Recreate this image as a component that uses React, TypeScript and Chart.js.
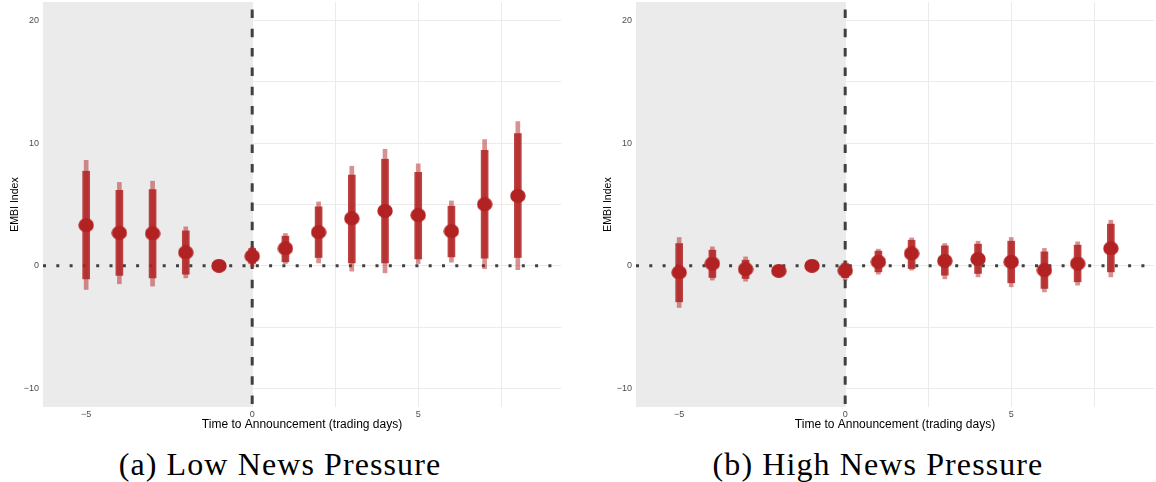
import React, { useEffect, useRef } from 'react';
import { Chart, registerables } from 'chart.js';

Chart.register(...registerables);

// ---------- data ----------
const days = [-5, -4, -3, -2, -1, 0, 1, 2, 3, 4, 5, 6, 7, 8];

// (a) Low News Pressure
const lowEst = [3.31, 2.69, 2.64, 1.09, 0, 0.79, 1.42, 2.74, 3.86, 4.48, 4.13, 2.83, 5.02, 5.7];
const lowThickLo = [-1.06, -0.78, -0.98, -0.68, null, 0.2, 0.33, 0.68, 0.24, 0.24, 0.57, 0.73, 0.63, 0.68];
const lowThickHi = [7.71, 6.16, 6.22, 2.85, null, 1.42, 2.42, 4.81, 7.39, 8.69, 7.63, 4.86, 9.42, 10.78];
const lowThinLo = [-1.92, -1.46, -1.65, -0.98, null, -0.08, 0.19, 0.24, -0.43, -0.57, 0.19, 0.3, -0.22, -0.3];
const lowThinHi = [8.6, 6.8, 6.9, 3.18, null, 1.55, 2.64, 5.21, 8.12, 9.5, 8.31, 5.29, 10.29, 11.76];

// (b) High News Pressure
const highEst = [-0.54, 0.19, -0.27, -0.41, 0, -0.38, 0.33, 1.01, 0.41, 0.55, 0.33, -0.35, 0.19, 1.42];
const highThickLo = [-2.93, -0.95, -1.03, -0.75, null, -0.95, -0.49, -0.22, -0.76, -0.62, -1.38, -1.84, -1.3, -0.49];
const highThickHi = [1.82, 1.28, 0.46, -0.1, null, 0.19, 1.2, 2.09, 1.63, 1.77, 2.01, 1.14, 1.69, 3.4];
const highThinLo = [-3.39, -1.16, -1.25, -0.85, null, -1.16, -0.68, -0.35, -1.06, -0.9, -1.71, -2.12, -1.57, -0.9];
const highThinHi = [2.31, 1.55, 0.73, 0.0, null, 0.38, 1.36, 2.28, 1.82, 2.01, 2.31, 1.42, 1.96, 3.72];

const xTickValues = [-5, -2.5, 0, 2.5, 5, 7.5];
const xTickLabels = ['\u22125', '', '0', '', '5', ''];
const yTickValues = [-10, -5, 0, 5, 10, 15, 20];
const yTickLabels = ['\u221210', '', '0', '', '10', '', '20'];
const xLimits = [-6.3, 9.3];
const yLimits = [-11.5, 21.5];

const yTitle = 'EMBI Index';
const xTitle = 'Time to Announcement (trading days)';
const captionA = '(a) Low News Pressure';
const captionB = '(b) High News Pressure';

// ---------- styles ----------
const SANS = '"Liberation Sans", Arial, sans-serif';
const RED = '#b22222';
const THICK = 'rgba(178,34,34,0.85)';
const THIN = 'rgba(178,34,34,0.5)';
const GRID = '#ebebeb';
const SHADE = '#ebebeb';
const LINE = '#404040';
const CANVAS_H = 440;

function makeDot(): HTMLCanvasElement {
  const c = document.createElement('canvas');
  c.width = 16;
  c.height = 14;
  const g = c.getContext('2d')!;
  g.fillStyle = RED;
  g.beginPath();
  g.ellipse(8, 7, 7.7, 6.9, 0, 0, Math.PI * 2);
  g.fill();
  return c;
}

const refPlugin = {
  id: 'refLines',
  beforeDatasetsDraw(chart: any) {
    const { ctx, chartArea: a, scales } = chart;
    const x0 = scales.x.getPixelForValue(0);
    const y0 = scales.y.getPixelForValue(0);
    ctx.save();
    ctx.fillStyle = SHADE;
    ctx.fillRect(a.left, a.top, x0 - a.left, a.bottom - a.top);
    ctx.strokeStyle = LINE;
    ctx.lineWidth = 3;
    ctx.setLineDash([3, 10.3]);
    ctx.lineDashOffset = 0;
    ctx.beginPath();
    ctx.moveTo(a.left, y0);
    ctx.lineTo(a.right, y0);
    ctx.stroke();
    ctx.setLineDash([8.5, 10.8]);
    ctx.lineDashOffset = 11.8;
    ctx.beginPath();
    ctx.moveTo(x0, a.top);
    ctx.lineTo(x0, a.bottom);
    ctx.stroke();
    ctx.restore();
  },
};

type PanelProps = {
  est: number[];
  thickLo: (number | null)[];
  thickHi: (number | null)[];
  thinLo: (number | null)[];
  thinHi: (number | null)[];
  left: number;
  width: number;
  padRight: number;
};

function Panel(p: PanelProps) {
  const ref = useRef<HTMLCanvasElement>(null);
  useEffect(() => {
    if (!ref.current) return;
    const dot = makeDot();
    const bars = (lo: (number | null)[], hi: (number | null)[]) =>
      days
        .map((d, i) => ({ x: d, y: [lo[i], hi[i]] }))
        .filter((o) => o.y[0] !== null && o.y[1] !== null);
    const chart = new Chart(ref.current, {
      type: 'scatter',
      data: {
        datasets: [
          {
            type: 'bar',
            data: bars(p.thinLo, p.thinHi) as any,
            backgroundColor: THIN,
            borderWidth: 0,
            barThickness: 4,
            grouped: false,
            order: 3,
          } as any,
          {
            type: 'bar',
            data: bars(p.thickLo, p.thickHi) as any,
            backgroundColor: THICK,
            borderWidth: 0,
            barThickness: 7,
            grouped: false,
            order: 2,
          } as any,
          {
            type: 'scatter',
            data: days.map((d, i) => ({ x: d, y: p.est[i] })),
            pointStyle: dot as any,
            pointRadius: 7,
            backgroundColor: RED,
            borderWidth: 0,
            order: 1,
          } as any,
        ],
      },
      options: {
        animation: false,
        responsive: false,
        events: [],
        layout: { autoPadding: false, padding: { top: 2, right: p.padRight, left: 0, bottom: 0 } },
        plugins: { legend: { display: false }, tooltip: { enabled: false } },
        scales: {
          x: {
            type: 'linear',
            min: xLimits[0],
            max: xLimits[1],
            offset: false,
            afterBuildTicks: (s: any) => {
              s.ticks = xTickValues.map((v) => ({ value: v }));
            },
            afterFit: (s: any) => {
              s.height = CANVAS_H - 407;
              s.paddingLeft = 0;
              s.paddingRight = 0;
            },
            ticks: {
              autoSkip: false,
              maxRotation: 0,
              padding: 2,
              color: '#4d4d4d',
              font: { size: 9, family: SANS },
              callback: (v: any) => xTickLabels[xTickValues.indexOf(Number(v))] ?? '',
            },
            grid: { color: GRID, lineWidth: 1, drawTicks: false, offset: false },
            border: { display: false },
            title: {
              display: true,
              text: xTitle,
              color: '#000',
              font: { size: 12, family: SANS },
              padding: { top: 0, bottom: 8 },
            },
          },
          y: {
            type: 'linear',
            min: yLimits[0],
            max: yLimits[1],
            beginAtZero: false,
            afterBuildTicks: (s: any) => {
              s.ticks = yTickValues.map((v) => ({ value: v }));
            },
            afterFit: (s: any) => {
              s.width = 43;
              s.paddingTop = 0;
              s.paddingBottom = 0;
            },
            ticks: {
              autoSkip: false,
              padding: 4,
              color: '#4d4d4d',
              font: { size: 9, family: SANS },
              callback: (v: any) => yTickLabels[yTickValues.indexOf(Number(v))] ?? '',
            },
            grid: { color: GRID, lineWidth: 1, drawTicks: false },
            border: { display: false },
            title: {
              display: true,
              text: yTitle,
              color: '#000',
              font: { size: 10.5, family: SANS },
              padding: { top: 9, bottom: 0 },
            },
          },
        },
      } as any,
      plugins: [refPlugin],
    });
    return () => chart.destroy();
  }, []);
  return (
    <canvas
      ref={ref}
      width={p.width}
      height={CANVAS_H}
      style={{ position: 'absolute', left: p.left, top: 0, width: p.width, height: CANVAS_H }}
    />
  );
}

const captionStyle: React.CSSProperties = {
  position: 'absolute',
  top: 448,
  width: 460,
  textAlign: 'center',
  fontFamily: '"Liberation Serif", "Times New Roman", serif',
  fontSize: 32,
  lineHeight: '32px',
  letterSpacing: '1.1px',
  color: '#000',
  whiteSpace: 'nowrap',
};

export default function App() {
  return (
    <div style={{ position: 'absolute', left: 0, top: 0, width: 1156, height: 482, background: '#fff', overflow: 'hidden' }}>
      <Panel est={lowEst} thickLo={lowThickLo} thickHi={lowThickHi} thinLo={lowThinLo} thinHi={lowThinHi} left={0} width={570} padRight={9} />
      <Panel est={highEst} thickLo={highThickLo} thickHi={highThickHi} thinLo={highThinLo} thinHi={highThinHi} left={593} width={563} padRight={2} />
      <div style={{ ...captionStyle, left: 280 - 230 }}>{captionA}</div>
      <div style={{ ...captionStyle, left: 878 - 230 }}>{captionB}</div>
    </div>
  );
}
